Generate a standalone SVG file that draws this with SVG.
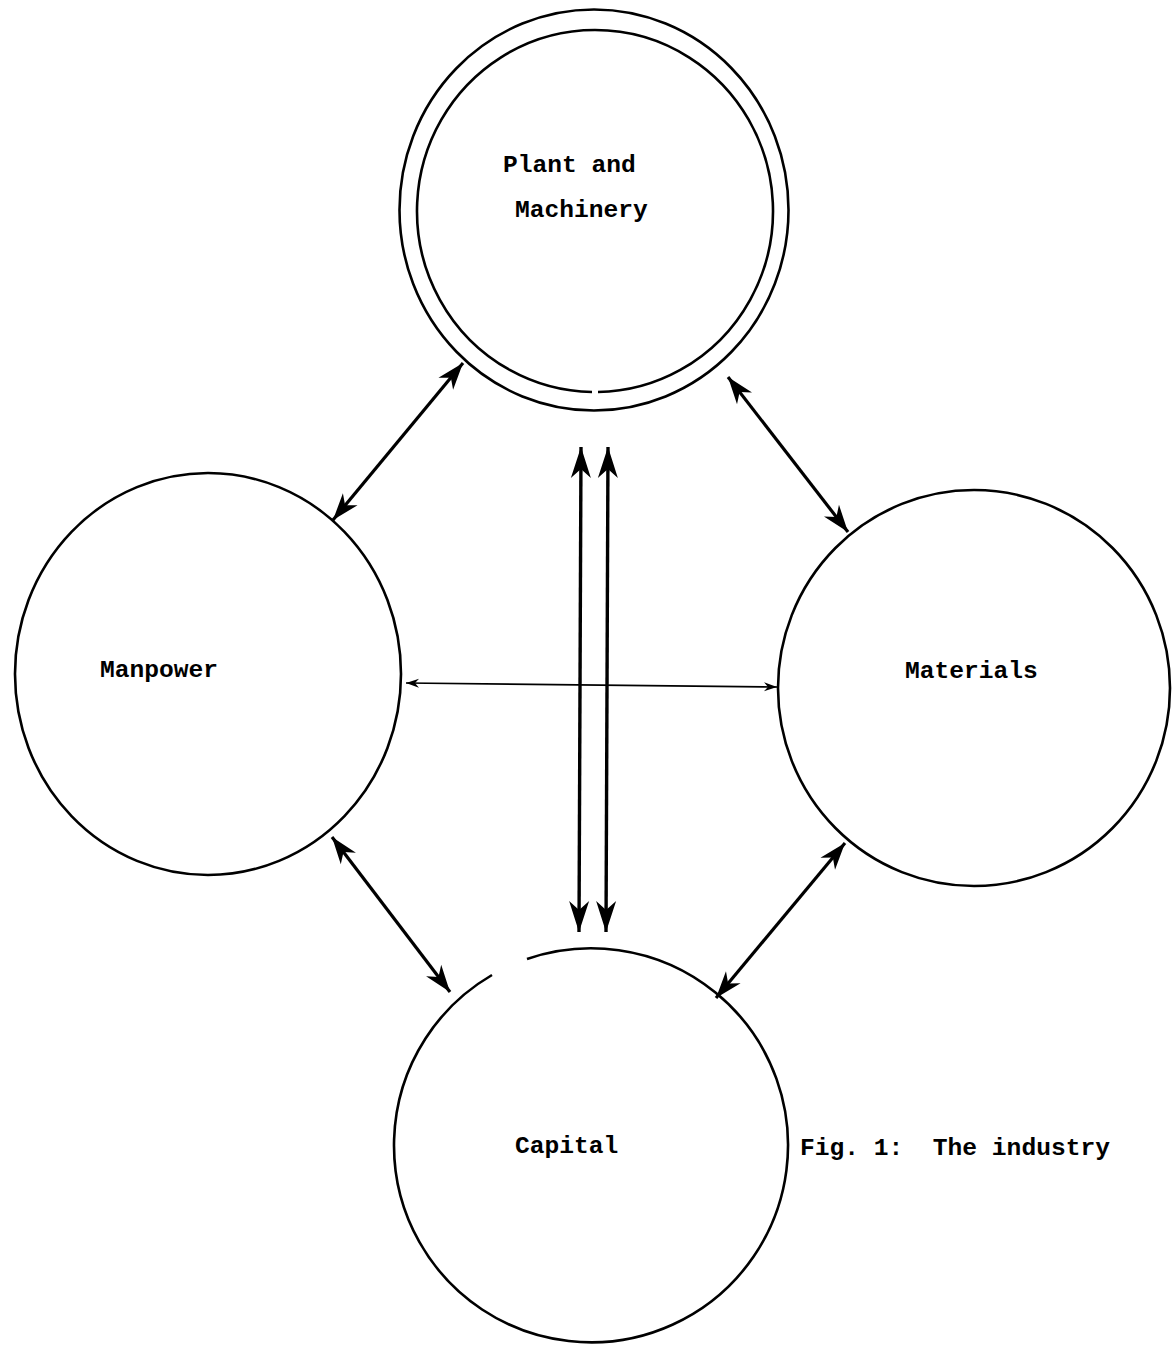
<svg xmlns="http://www.w3.org/2000/svg" width="1173" height="1350" viewBox="0 0 1173 1350">
<style>
.node{fill:none;stroke:#000;stroke-width:2.6}
.lbl{font-family:"Liberation Mono","DejaVu Sans Mono",monospace;font-size:24.6px;font-weight:bold;fill:#000;white-space:pre}
.thick{stroke:#000;stroke-width:3.2;fill:none;marker-start:url(#big);marker-end:url(#big)}
.vert{stroke:#000;stroke-width:3.4;fill:none;marker-start:url(#vbig);marker-end:url(#vbig)}
.thin{stroke:#000;stroke-width:1.6;fill:none;marker-start:url(#small);marker-end:url(#small)}
</style>
<defs>
<marker id="big" markerUnits="userSpaceOnUse" viewBox="-30 -12 32 24" markerWidth="32" markerHeight="24" refX="0" refY="0" orient="auto-start-reverse">
<path d="M0,0 L-27,-9.5 L-19,0 L-27,9.5 Z" fill="#000"/>
</marker>
<marker id="vbig" markerUnits="userSpaceOnUse" viewBox="-34 -13 36 26" markerWidth="36" markerHeight="26" refX="0" refY="0" orient="auto-start-reverse">
<path d="M0,0 L-31,-10 L-22,0 L-31,10 Z" fill="#000"/>
</marker>
<marker id="small" markerUnits="userSpaceOnUse" viewBox="-16 -6 18 12" markerWidth="18" markerHeight="12" refX="0" refY="0" orient="auto-start-reverse">
<path d="M0,0 L-13,-4.5 L-9,0 L-13,4.5 Z" fill="#000"/>
</marker>
</defs>
<g id="plant">
<ellipse class="node" cx="594" cy="210" rx="194.5" ry="200.5"/>
<path class="node" d="M592,392 A178,181 0 1 1 598,392"/>
<text class="lbl" x="503" y="172">Plant and</text>
<text class="lbl" x="515" y="217">Machinery</text>
</g>
<g id="manpower">
<ellipse class="node" cx="208" cy="674" rx="193" ry="201"/>
<text class="lbl" x="100" y="677">Manpower</text>
</g>
<g id="materials">
<ellipse class="node" cx="974" cy="688" rx="196" ry="198"/>
<text class="lbl" x="905" y="678">Materials</text>
</g>
<g id="capital">
<path class="node" d="M492,975 A197,197 0 1 0 527,959"/>
<text class="lbl" x="515" y="1153">Capital</text>
</g>
<g id="caption">
<text class="lbl" x="800" y="1155">Fig. 1:  The industry</text>
</g>
<g id="connectors">
<line class="thick" x1="333" y1="520" x2="463" y2="363"/>
<line class="thick" x1="728" y1="377" x2="848" y2="532"/>
<line class="thick" x1="332" y1="837" x2="450" y2="992"/>
<line class="thick" x1="845" y1="843" x2="716" y2="998"/>
<line class="thin" x1="406" y1="683" x2="777" y2="687"/>
<line class="vert" x1="581" y1="447" x2="579" y2="932"/>
<line class="vert" x1="608" y1="447" x2="606" y2="932"/>
</g>
</svg>
